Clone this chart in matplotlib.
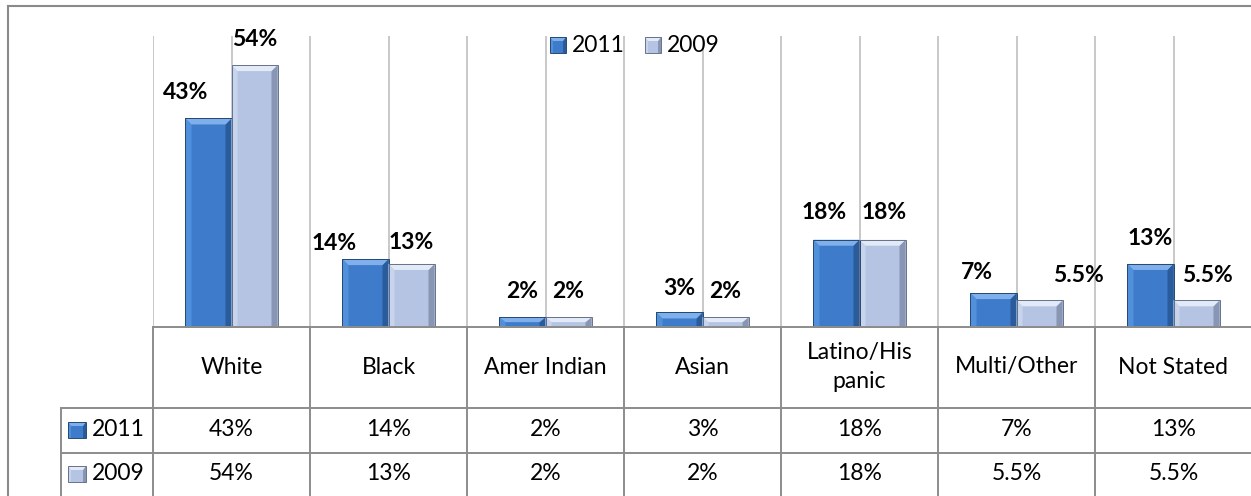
import numpy as np
import matplotlib.pyplot as plt
from matplotlib.patches import Polygon
from matplotlib.lines import Line2D
from matplotlib.transforms import blended_transform_factory

plt.rcParams['font.family'] = ['Lato', 'DejaVu Sans']

categories = ['White', 'Black', 'Amer Indian', 'Asian', 'Latino/His\npanic', 'Multi/Other', 'Not Stated']
years = ['2011', '2009']
share_2011 = [43, 14, 2, 3, 18, 7, 13]
share_2009 = [54, 13, 2, 2, 18, 5.5, 5.5]

# hand placed value labels: pixel offsets from the top centre of each bar
label_dx = [[-23, 0], [-31, 0], [0, 0], [0, 0], [-12, 2], [-17, 39], [0, 11]]
label_dy = [[26, 26], [16, 21], [26, 26], [24, 26], [27, 27], [21, 25], [25, 25]]

W, H = 1251, 496
pal = {
    '2011': dict(face='#3E7CCB', top='#7FB0EC', left='#5190DB', right='#2A5B9B', edge='#264872'),
    '2009': dict(face='#B5C4E2', top='#E2EAF8', left='#C8D4EC', right='#8896B3', edge='#66728A'),
}
grid_c = '#BFBFBF'
table_c = '#8C8C8C'
fs = 16.5


def pct(v):
    return '%g%%' % v


def bevel(target, x0, x1, y0, y1, bx, by, p, tr, z=3):
    by = min(by, (y1 - y0) * 0.5)
    polys = [
        ('face', [(x0, y0), (x1, y0), (x1, y1), (x0, y1)]),
        ('left', [(x0, y0), (x0, y1), (x0 + bx, y1 - by), (x0 + bx, y0)]),
        ('right', [(x1, y0), (x1, y1), (x1 - bx, y1 - by), (x1 - bx, y0)]),
        ('top', [(x0, y1), (x1, y1), (x1 - bx, y1 - by), (x0 + bx, y1 - by)]),
    ]
    for k, pts in polys:
        target.add_artist(Polygon(pts, closed=True, fc=p[k], ec='none', transform=tr,
                                  zorder=z, clip_on=False))
    target.add_artist(Polygon(polys[0][1], closed=True, fill=False, ec=p['edge'], lw=0.7,
                              transform=tr, zorder=z + 0.1, clip_on=False))


fig = plt.figure(figsize=(W / 100, H / 100), dpi=100)
fig.patch.set_facecolor('white')

# plot area
ax = fig.add_axes([153 / W, 1 - 327 / H, 1099 / W, (327 - 36) / H])
ax.set_xlim(-0.5, 6.5)
ax.set_ylim(0, 60)
ax.axis('off')

n = len(categories)
x = np.arange(n)
w = 0.293

for xv in np.arange(-0.5, n, 0.5):
    ax.axvline(xv, color=grid_c, lw=1.2, zorder=1)

ppx = ax.bbox.width / 7.0
ppy = ax.bbox.height / 60.0
bx, by = 6 / ppx, 6 / ppy

for j, (yr, vals, off) in enumerate([(years[0], share_2011, -w / 2), (years[1], share_2009, w / 2)]):
    bars = ax.bar(x + off, vals, w, color=pal[yr]['face'], zorder=2)
    for i, r in enumerate(bars):
        x0 = r.get_x()
        x1 = x0 + r.get_width()
        h = r.get_height()
        bevel(ax, x0, x1, 0, h, bx, by, pal[yr], ax.transData)
        ax.annotate(pct(vals[i]), xy=(x0 + r.get_width() / 2, h),
                    xytext=(label_dx[i][j], label_dy[i][j]), textcoords='offset pixels',
                    ha='center', va='center', fontsize=fs, fontweight='bold', zorder=5)

# data table underneath
tr = blended_transform_factory(ax.transData, fig.transFigure)


def fy(py):
    return 1 - py / H


xl = -0.5 - 92 / ppx
lw_t = 1.4
fig.add_artist(Line2D([-0.5, 6.5], [fy(327), fy(327)], color=table_c, lw=lw_t, transform=tr))
for py in (408, 453):
    fig.add_artist(Line2D([xl, 6.5], [fy(py), fy(py)], color=table_c, lw=lw_t, transform=tr))
for k in range(n + 1):
    fig.add_artist(Line2D([k - 0.5, k - 0.5], [fy(327), 0], color=table_c, lw=lw_t, transform=tr))
fig.add_artist(Line2D([xl, xl], [fy(408), 0], color=table_c, lw=lw_t, transform=tr))

for i in range(n):
    fig.text(i, fy(367), categories[i], transform=tr, ha='center', va='center',
             fontsize=fs, linespacing=1.5)
    fig.text(i, fy(430), pct(share_2011[i]), transform=tr, ha='center', va='center', fontsize=fs)
    fig.text(i, fy(474), pct(share_2009[i]), transform=tr, ha='center', va='center', fontsize=fs)

# row headers with series keys
for yr, py in ((years[0], 430), (years[1], 474)):
    bevel(fig, 68 / W, 86 / W, fy(py + 8), fy(py - 8), 3 / W, 4 / H, pal[yr], fig.transFigure)
    fig.text(92 / W, fy(py), yr, ha='left', va='center', fontsize=fs)

# legend
for yr, px in ((years[0], 550), (years[1], 645)):
    bevel(fig, px / W, (px + 16) / W, fy(53), fy(37), 3 / W, 4 / H, pal[yr], fig.transFigure, z=6)
    fig.text((px + 22) / W, fy(45), yr, ha='left', va='center', fontsize=fs, zorder=6)

# chart border
fig.add_artist(Line2D([8 / W, 8 / W], [fy(6), 0], color='#8A8A8A', lw=1.5))
fig.add_artist(Line2D([8 / W, 1], [fy(6), fy(6)], color='#8A8A8A', lw=1.5))

fig.savefig('out.png', dpi=100)
